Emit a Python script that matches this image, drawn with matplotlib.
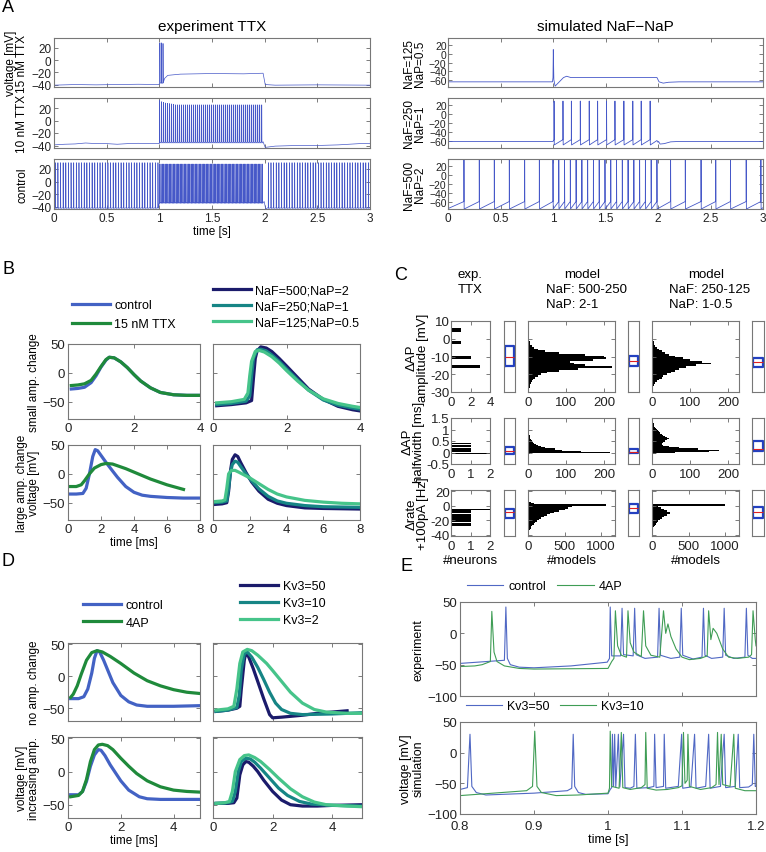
import matplotlib.pyplot as plt
import numpy as np
from matplotlib.lines import Line2D
from matplotlib.ticker import FormatStrFormatter

plt.rcParams['font.family'] = ['Liberation Sans', 'DejaVu Sans']

# ---------------- A: experiment TTX (spike times in s) ----------------
ctrl_pre = [0.012, 0.037, 0.062, 0.087, 0.112, 0.137, 0.162, 0.187, 0.212, 0.237,
            0.262, 0.287, 0.312, 0.337, 0.362, 0.387, 0.412, 0.437, 0.462, 0.487,
            0.512, 0.537, 0.562, 0.587, 0.612, 0.637, 0.662, 0.687, 0.712, 0.737,
            0.762, 0.787, 0.812, 0.837, 0.862, 0.887, 0.912, 0.937, 0.962, 0.987]
ctrl_step = [1.003, 1.016, 1.029, 1.042, 1.055, 1.068, 1.081, 1.094, 1.107, 1.120,
             1.133, 1.146, 1.159, 1.172, 1.185, 1.198, 1.211, 1.224, 1.237, 1.250,
             1.263, 1.276, 1.289, 1.302, 1.315, 1.328, 1.341, 1.354, 1.367, 1.380,
             1.393, 1.406, 1.419, 1.432, 1.445, 1.458, 1.471, 1.484, 1.497, 1.510,
             1.523, 1.536, 1.549, 1.562, 1.575, 1.588, 1.601, 1.614, 1.627, 1.640,
             1.653, 1.666, 1.679, 1.692, 1.705, 1.718, 1.731, 1.744, 1.757, 1.770,
             1.783, 1.796, 1.809, 1.822, 1.835, 1.848, 1.861, 1.874, 1.887, 1.900,
             1.913, 1.926, 1.939, 1.952, 1.965, 1.978]
ctrl_post = [2.035, 2.060, 2.085, 2.110, 2.135, 2.160, 2.185, 2.210, 2.235, 2.260,
             2.285, 2.310, 2.335, 2.360, 2.385, 2.410, 2.435, 2.460, 2.485, 2.510,
             2.535, 2.560, 2.585, 2.610, 2.635, 2.660, 2.685, 2.710, 2.735, 2.760,
             2.785, 2.810, 2.835, 2.860, 2.885, 2.910, 2.935, 2.960, 2.985]
ctrl_base = [(0, -42), (1.995, -32), (2.01, -44), (2.03, -42), (3.0, -42)]

ttx10_step = [1.003, 1.022, 1.041, 1.060, 1.079, 1.098, 1.117, 1.136, 1.155, 1.174,
              1.193, 1.212, 1.231, 1.250, 1.269, 1.288, 1.307, 1.326, 1.345, 1.364,
              1.383, 1.402, 1.421, 1.440, 1.459, 1.478, 1.497, 1.516, 1.535, 1.554,
              1.573, 1.592, 1.611, 1.630, 1.649, 1.668, 1.687, 1.706, 1.725, 1.744,
              1.763, 1.782, 1.801, 1.820, 1.839, 1.858, 1.877, 1.896, 1.915, 1.934,
              1.953, 1.972]
ttx10_peaks = [32, 30, 29, 28, 27.5, 27, 26.5, 26] + [25] * 44
ttx10_base = [(0, -39), (0.1, -38), (0.2, -37.5), (0.3, -36), (0.4, -37), (0.5, -37),
              (0.6, -38), (0.7, -37), (0.8, -36.5), (0.9, -37), (0.998, -37),
              (1.985, -34), (2.005, -43), (2.1, -41), (2.3, -40), (2.5, -40),
              (2.7, -39), (2.9, -37), (3.0, -37)]

ttx15_spk = [1.005, 1.02, 1.035]
ttx15_peaks = [28, 28, 27]
ttx15_base = [(0, -41), (0.2, -40), (0.4, -40.5), (0.6, -40), (0.8, -39.5), (0.995, -40),
              (1.05, -30), (1.08, -25), (1.2, -23), (1.5, -22), (1.8, -22.5),
              (1.985, -21.5), (2.005, -40), (2.1, -41), (2.5, -40.5), (3.0, -41)]

# ---------------- A: simulated NaF-NaP ----------------
naf125 = [(0, -65), (0.995, -65), (1.0, -55), (1.003, 10), (1.008, -60), (1.02, -75),
          (1.06, -65), (1.1, -55), (1.13, -52), (1.17, -55), (1.99, -55), (2.01, -65),
          (2.05, -68), (2.1, -66), (2.2, -65), (3.0, -65)]
naf250_spk = [1.01, 1.095, 1.175, 1.26, 1.345, 1.425, 1.51, 1.59, 1.675, 1.76, 1.84, 1.925]
naf250_base = [(0, -62), (1.0, -62), (1.99, -60), (2.0, -64), (2.005, -62), (2.02, -68),
               (2.06, -67), (2.12, -63), (2.2, -62), (3.0, -62)]
naf500_spk = [0.152, 0.298, 0.441, 0.584, 0.73, 0.87,
              1.0, 1.055, 1.11, 1.165, 1.22, 1.275, 1.33, 1.385, 1.44, 1.495, 1.55,
              1.605, 1.66, 1.715, 1.77, 1.825, 1.88, 1.935, 1.99,
              2.12, 2.26, 2.41, 2.55, 2.69, 2.84, 2.98]
naf500_base = [(0, -76), (3.0, -74)]

# ---------------- B: AP waveforms (time ms, voltage mV) ----------------
b_ctrl_s_t = [0.1, 0.3, 0.5, 0.7, 0.85, 1.0, 1.15, 1.25, 1.4, 1.6, 1.8, 2.0, 2.2, 2.5, 2.8, 3.2, 3.6, 4.0]
b_ctrl_s_v = [-28, -27, -25, -17, -5, 10, 22, 27, 26, 19, 9, -3, -14, -26, -34, -38, -39, -39]
b_ttx_s_v = [-22, -21, -19, -13, -2, 11, 23, 27, 26, 19, 9, -3, -14, -26, -34, -38, -39, -39]
b_n500_s = ([0.1, 0.5, 0.9, 1.05, 1.1, 1.15, 1.2, 1.3, 1.45, 1.6, 1.8, 2.0, 2.3, 2.6, 3.0, 3.4, 3.8, 4.0],
            [-57, -55, -52, -48, -10, 25, 38, 45, 43, 37, 25, 12, -8, -28, -46, -58, -64, -66])
b_n250_s = ([0.1, 0.5, 0.9, 1.0, 1.05, 1.1, 1.2, 1.3, 1.45, 1.6, 1.8, 2.0, 2.3, 2.6, 3.0, 3.4, 3.8, 4.0],
            [-55, -53, -49, -40, -5, 25, 40, 41, 38, 31, 20, 7, -12, -30, -47, -56, -61, -63])
b_n125_s = ([0.1, 0.5, 0.85, 0.95, 1.0, 1.05, 1.15, 1.25, 1.4, 1.6, 1.8, 2.0, 2.3, 2.6, 3.0, 3.4, 3.8, 4.0],
            [-52, -50, -46, -35, -5, 20, 37, 39, 36, 28, 17, 4, -14, -30, -45, -53, -58, -60])
b_ctrl_l = ([0.1, 0.5, 0.9, 1.1, 1.3, 1.5, 1.65, 1.8, 2.0, 2.3, 2.7, 3.0, 3.5, 4.0, 4.5, 5, 6, 7, 8],
            [-35, -35, -34, -25, 0, 30, 42, 40, 32, 20, 5, -6, -22, -32, -37, -39, -41, -42, -42])
b_ttx_l = ([0.1, 0.5, 0.8, 1.0, 1.3, 1.6, 2.0, 2.3, 2.7, 3.0, 3.5, 4.0, 4.5, 5.0, 5.5, 6.0, 6.5, 7.0],
           [-22, -22, -19, -12, 0, 10, 16, 18, 17, 14, 9, 3, -3, -9, -14, -19, -23, -27])
b_n500_l = ([0.1, 0.5, 0.75, 0.85, 0.95, 1.05, 1.2, 1.35, 1.5, 1.8, 2.1, 2.5, 3.0, 3.5, 4.0, 5.0, 6.0, 8.0],
            [-53, -52, -50, -30, 5, 25, 33, 30, 20, 2, -14, -30, -44, -51, -55, -59, -60, -61])
b_n250_l = ([0.1, 0.5, 0.75, 0.85, 0.95, 1.05, 1.2, 1.35, 1.5, 1.8, 2.1, 2.5, 3.0, 3.5, 4.0, 5.0, 6.0, 8.0],
            [-50, -49, -47, -25, 2, 16, 22, 20, 13, 0, -12, -26, -39, -47, -51, -55, -57, -58])
b_n125_l = ([0.1, 0.5, 0.65, 0.75, 0.85, 1.0, 1.2, 1.4, 1.7, 2.0, 2.5, 3.0, 3.5, 4.0, 5.0, 6.0, 7.0, 8.0],
            [-48, -47, -45, -25, 0, 6, 6, 3, -2, -7, -17, -27, -35, -40, -46, -49, -51, -52])

# ---------------- C: histograms ----------------
exp_amp_y, exp_amp_n = [5, -2, -10.5, -15.7], [1, 1, 2, 3]
exp_hw_y, exp_hw_n = [0.39, 0.28, 0.17, 0.06], [1, 1, 1, 1]
exp_hw_peak = (-0.03, 2)
exp_rate_y, exp_rate_n = [-7, -14, -20, -26], [1, 1, 1, 1]
exp_rate_peak = (-5, 2)

amp_bins = list(range(-28, 6))
m1_amp = [3, 5, 6, 8, 10, 13, 18, 25, 35, 50, 80, 130, 220, 150, 120, 110, 170, 205, 200, 150,
          80, 45, 25, 15, 10, 6, 4, 3, 2, 2, 1, 1, 1, 1]
m2_amp = [2, 3, 5, 8, 12, 18, 25, 30, 40, 50, 60, 70, 90, 115, 155, 130, 100, 80, 60, 45,
          35, 25, 18, 12, 8, 6, 4, 3, 2, 2, 1, 1, 1, 1]
hw_bins = [-0.05, 0.0, 0.05, 0.1, 0.15, 0.2, 0.25, 0.3, 0.35, 0.4, 0.45, 0.5, 0.55, 0.6, 0.65,
           0.7, 0.75, 0.8, 0.85, 0.9, 0.95, 1.0, 1.05, 1.1, 1.15, 1.2, 1.25, 1.3, 1.35, 1.4]
m1_hw = [5, 215, 140, 90, 70, 45, 35, 25, 20, 15, 12, 10, 8, 6, 5, 4, 4, 3, 3, 2, 2, 2, 1, 1,
         1, 1, 1, 1, 0, 0]
m2_hw = [10, 60, 150, 175, 120, 70, 45, 30, 25, 25, 30, 35, 40, 45, 40, 35, 30, 25, 20, 18,
         15, 12, 10, 8, 6, 5, 4, 3, 2, 1]
rate_bins = [15, 13, 11, 9, 7, 5, 3, 1, -1, -3, -5, -7, -9, -11, -13, -15, -17, -19, -21, -23,
             -25, -27, -29, -31, -33, -35, -37, -39, -41]
m1_rate = [5, 8, 10, 15, 20, 40, 80, 1070, 600, 550, 500, 420, 350, 300, 260, 220, 180, 150,
           120, 100, 80, 60, 45, 35, 25, 18, 12, 8, 5]
m2_rate = [2, 3, 4, 5, 8, 10, 20, 1000, 80, 120, 170, 210, 250, 240, 200, 170, 140, 110, 85,
           65, 50, 38, 28, 20, 14, 10, 6, 4, 2]
# (q1, median, q3) for exp, model 500-250, model 250-125
box_amp = [(-15.2, -10.5, -3.9), (-15.2, -12.4, -9.5), (-16, -13.3, -11)]
box_hw = [(-0.07, 0.08, 0.23), (-0.03, 0.03, 0.15), (0.05, 0.15, 0.49)]
box_rate = [(-17.5, -9, -5), (-10, -2.5, 2.5), (-17.5, -9, -1.5)]

# ---------------- D: 4AP / Kv3 ----------------
d_ctrl_n = ([0.1, 0.4, 0.6, 0.75, 0.9, 1.0, 1.1, 1.2, 1.35, 1.5, 1.7, 2.0, 2.3, 2.6, 3.0, 3.5, 4.0, 5.0],
            [-35, -35, -32, -20, 5, 28, 40, 38, 25, 10, -10, -30, -40, -45, -47, -47, -47, -46])
d_4ap_n = ([0.1, 0.2, 0.35, 0.5, 0.7, 0.9, 1.1, 1.3, 1.6, 2.0, 2.5, 3.0, 3.5, 4.0, 4.5, 5.0],
           [-33, -28, -15, 3, 25, 37, 40, 38, 31, 20, 5, -7, -15, -21, -25, -27])
d_k50_n = ([0.1, 0.5, 0.8, 0.9, 0.95, 1.05, 1.1, 1.2, 1.35, 1.5, 1.7, 1.9, 2.0, 2.3, 3.0, 3.5, 4.0, 4.5],
           [-55, -53, -50, -47, -20, 25, 37, 30, 12, -8, -35, -60, -65, -64, -61, -58, -56, -54])
d_k10_n = ([0.1, 0.5, 0.8, 0.88, 0.95, 1.05, 1.15, 1.3, 1.5, 1.7, 1.9, 2.1, 2.3, 2.6, 3.0, 4.0, 5.0],
           [-55, -53, -49, -30, 10, 35, 38, 30, 14, -5, -25, -42, -52, -58, -60, -59, -57])
d_k2_n = ([0.1, 0.5, 0.7, 0.8, 0.9, 1.0, 1.15, 1.3, 1.5, 1.8, 2.0, 2.3, 2.6, 3.0, 3.4, 3.8, 4.5, 5.0],
          [-53, -51, -47, -20, 20, 38, 42, 40, 33, 20, 9, -8, -25, -42, -52, -56, -58, -58])
d_ctrl_i = ([0.1, 0.4, 0.55, 0.7, 0.85, 1.0, 1.15, 1.25, 1.4, 1.6, 1.8, 2.0, 2.3, 2.7, 3.0, 3.5, 4.0, 5.0],
            [-35, -35, -30, -15, 8, 25, 33, 32, 24, 10, -2, -14, -28, -38, -41, -42, -42, -42])
d_4ap_i = ([0.1, 0.4, 0.55, 0.7, 0.85, 1.0, 1.15, 1.3, 1.5, 1.7, 2.0, 2.3, 2.6, 3.0, 3.5, 4.0, 4.5, 5.0],
           [-38, -36, -30, -12, 15, 33, 40, 41, 39, 33, 20, 8, -3, -14, -23, -28, -30, -31])
d_k50_i = ([0.1, 0.5, 0.7, 0.8, 0.9, 1.0, 1.1, 1.2, 1.35, 1.5, 1.7, 2.0, 2.3, 2.6, 3.0, 3.5, 4.0, 5.0],
           [-48, -48, -47, -40, -5, 10, 15, 14, 8, 0, -13, -30, -43, -50, -52, -52, -51, -50])
d_k10_i = ([0.1, 0.5, 0.65, 0.75, 0.85, 0.95, 1.1, 1.25, 1.4, 1.6, 1.9, 2.2, 2.5, 2.9, 3.3, 4.0, 5.0],
           [-48, -47, -45, -30, 0, 15, 20, 19, 14, 5, -10, -25, -36, -45, -49, -51, -52])
d_k2_i = ([0.1, 0.4, 0.55, 0.65, 0.75, 0.9, 1.05, 1.2, 1.4, 1.6, 1.9, 2.2, 2.6, 3.0, 3.4, 3.8, 4.5, 5.0],
          [-48, -47, -45, -30, 0, 18, 24, 25, 21, 15, 3, -10, -26, -38, -46, -50, -52, -53])

# ---------------- E: traces (time s, voltage mV) ----------------
e_ctrl = [(0.8, -48), (0.86, -43), (0.862, 42), (0.864, -40), (0.868, -50), (0.88, -54), (0.9, -55),
          (0.95, -52), (0.999, -46), (1.002, -40), (1.003, 42), (1.005, -36), (1.017, -36),
          (1.019, 40), (1.021, -34), (1.034, -36), (1.036, 40), (1.038, -34), (1.05, -40),
          (1.067, -38), (1.069, 40), (1.071, -35), (1.085, -40), (1.097, -38), (1.099, 40),
          (1.101, -35), (1.115, -41), (1.127, -38), (1.129, 40), (1.131, -35), (1.14, -40),
          (1.155, -38), (1.157, 40), (1.159, -35), (1.17, -40), (1.185, -38), (1.187, 40),
          (1.189, -35), (1.195, -40), (1.2, -40)]
e_4ap = [(0.8, -53), (0.82, -52), (0.83, -50), (0.841, -45), (0.843, 35), (0.846, -30),
         (0.85, -45), (0.86, -52), (0.88, -56), (0.9, -57), (1.0, -56), (1.005, -45),
         (1.008, -40), (1.010, 36), (1.013, -20), (1.018, -35), (1.025, -38), (1.027, 36),
         (1.03, -15), (1.035, -30), (1.045, -37), (1.048, 36), (1.051, -20), (1.058, -35),
         (1.07, -38), (1.075, 36), (1.078, 0), (1.081, 15), (1.085, -5), (1.092, -25),
         (1.1, -38), (1.11, -42), (1.125, -40), (1.134, -36), (1.136, 36), (1.139, -10),
         (1.142, 8), (1.147, 0), (1.155, -25), (1.163, -38), (1.175, -40), (1.19, -38),
         (1.194, -34), (1.196, 36), (1.199, -10), (1.2, -20)]
e_k50 = [(0.8, -60), (0.81, -57), (0.8135, 30), (0.816, -55), (0.822, -65), (0.835, -69),
         (0.9, -66), (0.945, -62), (0.951, -58), (0.953, 30), (0.955, -55), (0.96, -65),
         (0.97, -68), (1.0, -67), (1.003, -60), (1.005, -57), (1.006, 30), (1.0075, -55),
         (1.009, 30), (1.0105, -56), (1.014, 30), (1.016, -56), (1.021, 30), (1.023, -57),
         (1.03, -58), (1.035, -55), (1.037, 30), (1.039, -58), (1.055, -57), (1.062, -55),
         (1.063, 30), (1.065, -57), (1.075, -55), (1.076, 30), (1.078, -58), (1.095, -55),
         (1.0995, 30), (1.101, -58), (1.112, -56), (1.117, 30), (1.119, -58), (1.132, -55),
         (1.136, 30), (1.138, -58), (1.152, -55), (1.157, 30), (1.159, -57), (1.172, -55),
         (1.176, 30), (1.178, -57), (1.19, -56), (1.195, -52), (1.197, 30), (1.199, -55),
         (1.2, -55)]
e_k10 = [(0.8, -70), (0.89, -62), (0.898, -55), (0.901, 35), (0.904, -55), (0.91, -65),
         (0.93, -70), (0.96, -69), (1.0, -66), (1.002, -58), (1.003, 35), (1.005, -55),
         (1.015, -58), (1.018, 33), (1.02, -57), (1.03, -60), (1.045, -57), (1.05, -52),
         (1.051, 33), (1.053, -58), (1.065, -61), (1.08, -60), (1.095, -57), (1.1, -54),
         (1.102, 33), (1.104, -50), (1.107, -45), (1.108, 30), (1.11, -55), (1.125, -60),
         (1.14, -57), (1.146, -52), (1.148, 33), (1.15, -52), (1.153, 30), (1.155, -52),
         (1.165, -55), (1.17, 30), (1.172, -58), (1.185, -62), (1.2, -62)]

# ---------------- drawing ----------------
W, H = 766, 853
fig = plt.figure(figsize=(W / 100, H / 100), dpi=100)

A_BLUE = '#4658c8'
C_BLUE = '#4362c4'
C_GREEN = '#1f8a3b'
NAVY = '#1b1b6b'
TEAL = '#168585'
LIGHT = '#46c48a'
E_BLUE = '#5068c4'
E_GREEN = '#3f9d55'


def box(l, t, r, b):
    return fig.add_axes([l / W, 1 - b / H, (r - l) / W, (b - t) / H])


def style(ax, fs=8):
    ax.tick_params(direction='in', top=True, right=True, length=3, width=0.6,
                   color='#666666', labelcolor='#222222', labelsize=fs, pad=2)
    for s in ax.spines.values():
        s.set_color('#777777')
        s.set_linewidth(0.8)


def spikes(times, peaks, thr, reset):
    pts = []
    for s, p in zip(times, peaks):
        pts += [(s - 0.0008, thr), (s, p), (s + 0.002, reset)]
    return pts


def trace(pts):
    pts = sorted(pts)
    return np.array(pts).T


def flabel(x, y, s, **kw):
    fig.text(x / W, 1 - y / H, s, **kw)


def legend(handles, x, y, fs=9, spacing=0.5, ncol=1, hl=3.0, colsp=1.0):
    fig.legend(handles, [h.get_label() for h in handles], loc='upper left',
               bbox_to_anchor=(x / W, 1 - y / H), frameon=False, fontsize=fs,
               handlelength=hl, handletextpad=0.4, labelspacing=spacing,
               borderpad=0, borderaxespad=0, ncol=ncol, columnspacing=colsp)


gfmt = FormatStrFormatter('%g')

# panel A
left_traces = [
    trace(ttx15_base + spikes(ttx15_spk, ttx15_peaks, -38, -37)),
    trace(ttx10_base + spikes(ttx10_step, ttx10_peaks, -34, -36)),
    trace(ctrl_base + spikes(ctrl_pre, [30] * len(ctrl_pre), -42, -43)
          + spikes(ctrl_step, [28] * len(ctrl_step), -33, -35)
          + spikes(ctrl_post, [30] * len(ctrl_post), -42, -43)),
]
left_labels = ['voltage [mV]\n15 nM TTX', '10 nM TTX', 'control']
right_traces = [
    trace(naf125),
    trace(naf250_base + spikes(naf250_spk, [30] * len(naf250_spk), -58, -70)),
    trace(naf500_base + spikes(naf500_spk, [35] * len(naf500_spk), -60, -77)),
]
right_labels = ['NaF=125\nNaP=0.5', 'NaF=250\nNaP=1', 'NaF=500\nNaP=2']
rows = [(39, 88), (99, 149), (160, 210)]
for i, (t, b) in enumerate(rows):
    ax = box(54, t, 370, b)
    ax.plot(*left_traces[i], color=A_BLUE, lw=0.5)
    ax.set_xlim(0, 3)
    ax.set_ylim(-44, 36)
    ax.set_yticks([-40, -20, 0, 20])
    ax.set_xticks([0, 0.5, 1, 1.5, 2, 2.5, 3])
    ax.xaxis.set_major_formatter(gfmt)
    style(ax, 8.5)
    ax.set_ylabel(left_labels[i], fontsize=8.5, labelpad=2, linespacing=0.95)
    if i < 2:
        ax.tick_params(labelbottom=False)
    else:
        ax.set_xlabel('time [s]', fontsize=8.5, labelpad=1)
    if i == 0:
        ax.set_title('experiment TTX', fontsize=11, pad=6)

    ax = box(448, t, 763, b)
    ax.plot(*right_traces[i], color=A_BLUE, lw=0.6)
    ax.set_xlim(0, 3)
    ax.set_ylim(-77, 37)
    ax.set_yticks([-60, -40, -20, 0, 20])
    ax.set_xticks([0, 0.5, 1, 1.5, 2, 2.5, 3])
    ax.xaxis.set_major_formatter(gfmt)
    style(ax, 8.5)
    ax.tick_params(axis='y', labelsize=7.5, pad=1)
    ax.set_ylabel(right_labels[i], fontsize=8.5, labelpad=2, linespacing=0.95)
    if i < 2:
        ax.tick_params(labelbottom=False)
    if i == 0:
        ax.set_title('simulated NaF\u2212NaP', fontsize=11, pad=6)

# panel B
lw = 2.3
ax = box(68, 345, 200, 420)
ax.plot(b_ctrl_s_t, b_ctrl_s_v, color=C_BLUE, lw=lw)
ax.plot(b_ctrl_s_t, b_ttx_s_v, color=C_GREEN, lw=lw)
ax.set_ylabel('small amp. change', fontsize=8.5, labelpad=2)
axes_B = [ax]
ax = box(213, 345, 360, 420)
for d, c in [(b_n500_s, NAVY), (b_n250_s, TEAL), (b_n125_s, LIGHT)]:
    ax.plot(*d, color=c, lw=lw)
ax.tick_params(labelleft=False)
axes_B.append(ax)
ax = box(68, 446, 200, 521)
ax.plot(*b_ctrl_l, color=C_BLUE, lw=lw)
ax.plot(*b_ttx_l, color=C_GREEN, lw=lw)
ax.set_ylabel('large amp. change\nvoltage [mV]', fontsize=8.5, labelpad=2, linespacing=1.0)
ax.set_xlabel('time [ms]', fontsize=8.5, labelpad=1)
axes_B.append(ax)
ax = box(213, 446, 360, 521)
for d, c in [(b_n500_l, NAVY), (b_n250_l, TEAL), (b_n125_l, LIGHT)]:
    ax.plot(*d, color=c, lw=lw)
ax.tick_params(labelleft=False)
axes_B.append(ax)
for k, ax in enumerate(axes_B):
    ax.set_ylim(-80, 50)
    ax.set_yticks([-50, 0, 50])
    if k < 2:
        ax.set_xlim(0, 4)
        ax.set_xticks([0, 2, 4])
    else:
        ax.set_xlim(0, 8)
        ax.set_xticks([0, 2, 4, 6, 8])
    style(ax, 9.5)

legend([Line2D([], [], color=C_BLUE, lw=lw, label='control'),
        Line2D([], [], color=C_GREEN, lw=lw, label='15 nM TTX')], 72, 300, spacing=0.55)
legend([Line2D([], [], color=NAVY, lw=lw, label='NaF=500;NaP=2'),
        Line2D([], [], color=TEAL, lw=lw, label='NaF=250;NaP=1'),
        Line2D([], [], color=LIGHT, lw=lw, label='NaF=125;NaP=0.5')], 213, 285, spacing=0.35)

# panel C
crow = [(322, 393), (419, 465), (491, 537)]
ylims = [(-30, 10), (-0.5, 1.5), (-42, 22)]
yticks = [[-30, -20, -10, 0, 10], [-0.5, 0, 0.5, 1, 1.5], [-40, -20, 0, 20]]
ylabs = ['\u0394AP\namplitude [mV]', '\u0394AP\nhalfwidth [ms]', '\u0394rate\n+100pA [Hz]']
exp_data = [(exp_amp_y, exp_amp_n, 1.9, None, 0),
            (exp_hw_y, exp_hw_n, 0.08, exp_hw_peak, 0.03),
            (exp_rate_y, exp_rate_n, 5.5, exp_rate_peak, 1.2)]
exp_xlim = [(0, 4), (0, 2), (0, 2)]
exp_xt = [[0, 2, 4], [0, 1, 2], [0, 1, 2]]
model_data = [(amp_bins, m1_amp, m2_amp, 1.0), (hw_bins, m1_hw, m2_hw, 0.05),
              (rate_bins, m1_rate, m2_rate, 2.0)]
model_xlim = [(0, 228), (0, 228), (0, 1190)]
model_xt = [[0, 100, 200], [0, 100, 200], [0, 500, 1000]]
boxes = [box_amp, box_hw, box_rate]
box_cols = [(504, 515), (628, 639), (752, 764)]
for r, (t, b) in enumerate(crow):
    ax = box(451, t, 490, b)
    y, n, h, pk, ph = exp_data[r]
    ax.barh(y, n, height=h, color='k')
    if pk is not None:
        ax.barh([pk[0]], [pk[1]], height=ph, color='k')
    ax.set_xlim(*exp_xlim[r])
    ax.set_xticks(exp_xt[r])
    ax.set_ylim(*ylims[r])
    ax.set_yticks(yticks[r])
    ax.yaxis.set_major_formatter(gfmt)
    style(ax, 9.5)
    ax.tick_params(axis='y', pad=1)
    ax.tick_params(axis='x', pad=3)
    ax.set_ylabel(ylabs[r], fontsize=9.5, labelpad=1, linespacing=0.95)
    if r == 2:
        ax.set_xlabel('#neurons', fontsize=9.5, labelpad=1)

    bins, m1, m2, bw = model_data[r]
    for k, (l, rr) in enumerate([(528, 615), (652, 739)]):
        ax = box(l, t, rr, b)
        ax.barh(bins, [m1, m2][k], height=bw, color='k')
        ax.set_xlim(*model_xlim[r])
        ax.set_xticks(model_xt[r])
        ax.set_ylim(*ylims[r])
        ax.set_yticks(yticks[r])
        style(ax, 9.5)
        ax.tick_params(labelleft=False)
        ax.tick_params(axis='x', pad=3)
        if r == 2:
            ax.set_xlabel('#models', fontsize=9.5, labelpad=1)

    for k, (l, rr) in enumerate(box_cols):
        ax = box(l, t, rr, b)
        q1, med, q3 = boxes[r][k]
        ax.bxp([{'q1': q1, 'med': med, 'q3': q3, 'whislo': q1, 'whishi': q3, 'fliers': []}],
               positions=[0.5], widths=0.85, showcaps=False,
               boxprops=dict(color='#2340c0', lw=1.6),
               medianprops=dict(color='#e02020', lw=0.8),
               whiskerprops=dict(lw=0))
        ax.set_xlim(0, 1)
        ax.set_ylim(*ylims[r])
        ax.set_xticks([])
        ax.set_yticks([])
        style(ax)

flabel(470, 275, 'exp.', fontsize=9.5, ha='center', va='center')
flabel(470, 290, 'TTX', fontsize=9.5, ha='center', va='center')
flabel(582, 275, 'model', fontsize=9.5, ha='center', va='center')
flabel(546, 290, 'NaF: 500-250', fontsize=9.5, ha='left', va='center')
flabel(546, 305, 'NaP: 2-1', fontsize=9.5, ha='left', va='center')
flabel(706, 275, 'model', fontsize=9.5, ha='center', va='center')
flabel(669, 290, 'NaF: 250-125', fontsize=9.5, ha='left', va='center')
flabel(669, 305, 'NaP: 1-0.5', fontsize=9.5, ha='left', va='center')

# panel D
axes_D = []
ax = box(68, 644, 200, 722)
ax.plot(*d_ctrl_n, color=C_BLUE, lw=lw)
ax.plot(*d_4ap_n, color=C_GREEN, lw=lw)
ax.set_ylabel('no amp. change', fontsize=8.5, labelpad=2)
axes_D.append(ax)
ax = box(213, 644, 362, 722)
for d, c in [(d_k50_n, NAVY), (d_k10_n, TEAL), (d_k2_n, LIGHT)]:
    ax.plot(*d, color=c, lw=lw)
ax.tick_params(labelleft=False)
axes_D.append(ax)
ax = box(68, 738, 200, 819)
ax.plot(*d_ctrl_i, color=C_BLUE, lw=lw)
ax.plot(*d_4ap_i, color=C_GREEN, lw=lw)
ax.set_ylabel('voltage [mV]\nincreasing amp.', fontsize=8.5, labelpad=2, linespacing=1.0)
ax.set_xlabel('time [ms]', fontsize=8.5, labelpad=1)
axes_D.append(ax)
ax = box(213, 738, 362, 819)
for d, c in [(d_k50_i, NAVY), (d_k10_i, TEAL), (d_k2_i, LIGHT)]:
    ax.plot(*d, color=c, lw=lw)
ax.tick_params(labelleft=False)
axes_D.append(ax)
for k, ax in enumerate(axes_D):
    ax.set_xlim(0, 5)
    ax.set_xticks([0, 2, 4])
    ax.set_ylim(-70, 52)
    ax.set_yticks([-50, 0, 50])
    style(ax, 9.5)
    if k < 2:
        ax.tick_params(labelbottom=False)

legend([Line2D([], [], color=C_BLUE, lw=lw, label='control'),
        Line2D([], [], color=C_GREEN, lw=lw, label='4AP')], 83, 600, spacing=0.45)
legend([Line2D([], [], color=NAVY, lw=lw, label='Kv3=50'),
        Line2D([], [], color=TEAL, lw=lw, label='Kv3=10'),
        Line2D([], [], color=LIGHT, lw=lw, label='Kv3=2')], 240, 581, spacing=0.4)

# panel E
ax = box(460, 603, 756, 697)
ax.plot(*trace(e_ctrl), color=E_BLUE, lw=0.8, label='control')
ax.plot(*trace(e_4ap), color=E_GREEN, lw=0.8, label='4AP')
ax.set_ylabel('experiment', fontsize=9, labelpad=2)
ax.tick_params(labelbottom=False)
axes_E = [ax]
legend(ax.get_lines(), 467, 581, ncol=2, hl=2.9, colsp=0.9)
ax = box(460, 723, 756, 815)
ax.plot(*trace(e_k50), color=E_BLUE, lw=0.8, label='Kv3=50')
ax.plot(*trace(e_k10), color=E_GREEN, lw=0.8, label='Kv3=10')
ax.set_ylabel('voltage [mV]\nsimulation', fontsize=9, labelpad=2, linespacing=1.0)
ax.set_xlabel('time [s]', fontsize=9, labelpad=1)
axes_E.append(ax)
legend(ax.get_lines(), 466, 701, ncol=2, hl=2.9, colsp=0.8)
for ax in axes_E:
    ax.set_xlim(0.8, 1.2)
    ax.set_xticks([0.8, 0.9, 1.0, 1.1, 1.2])
    ax.xaxis.set_major_formatter(gfmt)
    ax.set_ylim(-100, 50)
    ax.set_yticks([-100, -50, 0, 50])
    style(ax, 9.5)
    ax.tick_params(axis='x', pad=4)

# panel letters
for s, x, y in [('A', 8, 8), ('B', 8, 270), ('C', 401, 276), ('D', 8, 562), ('E', 406, 567)]:
    flabel(x, y, s, fontsize=13, ha='center', va='center')

fig.savefig('out.png', dpi=100)
